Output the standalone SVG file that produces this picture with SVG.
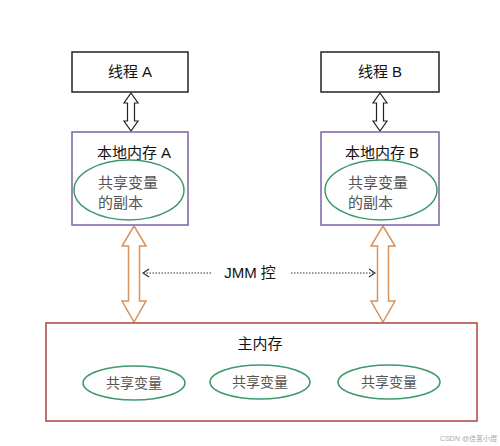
<svg xmlns="http://www.w3.org/2000/svg" width="500" height="446" viewBox="0 0 500 446">
<style>
.thread{fill:#fff;stroke:#222;stroke-width:1.5}
.local{fill:#fff;stroke:#7e62a8;stroke-width:1.5}
.main{fill:#fff;stroke:#b24f4a;stroke-width:1.6}
.ell{fill:#fff;stroke:#3d9a6c;stroke-width:1.5}
.t{font-family:"Liberation Sans","Noto Sans CJK SC",sans-serif;font-size:15px;fill:#111;text-anchor:middle}
.s{font-family:"Noto Sans CJK SC",serif;font-size:15px;fill:#555}
.sm{font-family:"Noto Sans CJK SC",serif;font-size:14px;fill:#555;text-anchor:middle}
.blk{fill:#fff;stroke:#222;stroke-width:1.2}
.org{fill:#fff;stroke:#d8925a;stroke-width:1.5}
.dot{stroke:#333;stroke-width:1.2;stroke-dasharray:1.5 1.5;fill:none}
</style>
<defs>
<marker id="open" markerWidth="8" markerHeight="10" refX="7" refY="5" orient="auto" markerUnits="userSpaceOnUse">
<path d="M1,1 L7,5 L1,9" fill="none" stroke="#333" stroke-width="1.2"/>
</marker>
</defs>
<rect width="500" height="446" fill="#fff"/>
<g id="connectors">
<path class="blk" d="M131,93 L138,103 L134.5,103 L134.5,121 L138,121 L131,131 L124,121 L127.5,121 L127.5,103 L124,103 Z"/>
<path class="blk" d="M380,93 L387,103 L383.5,103 L383.5,121 L387,121 L380,131 L373,121 L376.5,121 L376.5,103 L373,103 Z"/>
<path class="org" d="M134,226 L146,246 L139.5,246 L139.5,301 L146,301 L134,322 L122,301 L128.5,301 L128.5,246 L122,246 Z"/>
<path class="org" d="M383,226 L395,246 L388.5,246 L388.5,301 L395,301 L383,322 L371,301 L377.5,301 L377.5,246 L371,246 Z"/>
<line class="dot" x1="211" y1="273" x2="143" y2="273" marker-end="url(#open)"/>
<line class="dot" x1="291" y1="273" x2="375" y2="273" marker-end="url(#open)"/>
<text class="t" x="250" y="278" fill="#333">JMM 控</text>
</g>
<g id="threadA">
<rect class="thread" x="72" y="52" width="116" height="40"/>
<text class="t" x="130" y="77">线程 A</text>
</g>
<g id="threadB">
<rect class="thread" x="321" y="52" width="118" height="40"/>
<text class="t" x="380" y="77">线程 B</text>
</g>
<g id="localA">
<rect class="local" x="72" y="132" width="116" height="93"/>
<text class="t" x="134" y="158">本地内存 A</text>
<ellipse class="ell" cx="129" cy="190" rx="55" ry="30"/>
<text class="s" x="98" y="188">共享变量</text>
<text class="s" x="98" y="208">的副本</text>
</g>
<g id="localB">
<rect class="local" x="321" y="132" width="118" height="93"/>
<text class="t" x="382" y="158">本地内存 B</text>
<ellipse class="ell" cx="381" cy="190" rx="56" ry="30"/>
<text class="s" x="348" y="188">共享变量</text>
<text class="s" x="348" y="208">的副本</text>
</g>
<g id="mainMemory">
<rect class="main" x="46" y="323" width="431" height="98"/>
<text class="t" x="260" y="349">主内存</text>
<ellipse class="ell" cx="134" cy="383" rx="51" ry="17"/>
<text class="sm" x="134" y="388">共享变量</text>
<ellipse class="ell" cx="260" cy="382" rx="50" ry="17"/>
<text class="sm" x="260" y="387">共享变量</text>
<ellipse class="ell" cx="389" cy="382" rx="51" ry="17"/>
<text class="sm" x="389" y="387">共享变量</text>
</g>
<text x="497" y="441" font-family="Liberation Sans,'Noto Sans CJK SC',sans-serif" font-size="7" fill="#aaa" text-anchor="end">CSDN @佳茗小煜</text>
</svg>
